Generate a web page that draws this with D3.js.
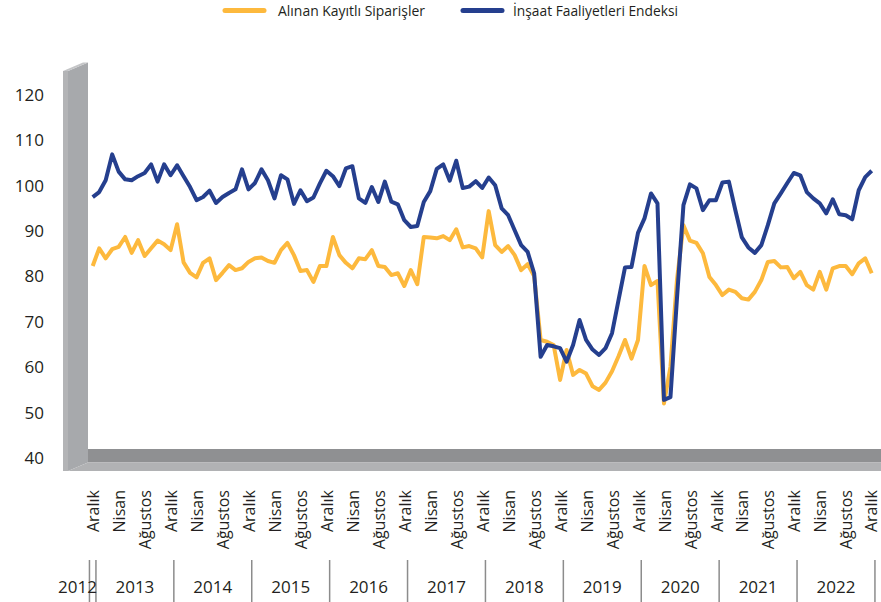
<!DOCTYPE html>
<html>

<head>
    <meta charset="utf-8">
    <title>İnşaat Faaliyetleri</title>
    <style>
        body { margin: 0; background: #fff; }
        text { font-family: "Open Sans", sans-serif; fill: #231f20; }
        .ytick { font-size: 17px; }
        .mtick { font-size: 16px; }
        .year { font-size: 17px; }
        .legend { font-size: 15px; }
    </style>
</head>

<body>
    <svg width="881" height="602"></svg>
    <script src="https://d3js.org/d3.v7.min.js"></script>

    <script>
        // aylık seri: Aralık 2012 - Aralık 2022
        const years = ['2012', '2013', '2014', '2015', '2016', '2017', '2018', '2019', '2020', '2021', '2022'];
        const tickLabels = ['Aralık', 'Nisan', 'Ağustos'];
        const yTicks = [40, 50, 60, 70, 80, 90, 100, 110, 120];
        const seriesNames = ['Alınan Kayıtlı Siparişler', 'İnşaat Faaliyetleri Endeksi'];

        const siparisler = [
            82.2, 86.1, 83.9, 85.9, 86.4, 88.6, 85.1, 87.9, 84.4, 86.1, 87.8, 87.0, 85.7,
            91.4, 83.0, 80.7, 79.7, 82.9, 83.9, 79.1, 80.7, 82.4, 81.3, 81.7, 83.1,
            83.9, 84.1, 83.3, 82.9, 85.7, 87.3, 84.6, 81.1, 81.3, 78.7, 82.2, 82.2,
            88.6, 84.6, 82.9, 81.7, 83.9, 83.7, 85.7, 82.2, 82.0, 80.2, 80.6, 77.8,
            81.3, 78.2, 88.6, 88.5, 88.3, 88.8, 87.9, 90.3, 86.3, 86.6, 86.1, 84.1,
            94.3, 86.8, 85.3, 86.6, 84.6, 81.3, 82.6, 80.0, 65.9, 65.5, 64.8, 57.1,
            63.7, 58.2, 59.3, 58.5, 55.7, 54.9, 56.5, 59.0, 62.3, 65.9, 61.8, 65.9,
            82.2, 78.0, 78.9, 51.9, 60.0, 79.1, 91.2, 87.8, 87.3, 85.0, 79.8, 78.0,
            75.8, 77.0, 76.5, 75.1, 74.8, 76.5, 79.1, 83.1, 83.3, 81.9, 82.0, 79.5,
            80.9, 78.0, 77.0, 80.9, 77.0, 81.7, 82.2, 82.2, 80.4, 82.8, 83.9, 80.6
        ];
        const endeks = [
            97.4, 98.5, 101.1, 106.8, 103.0, 101.3, 101.1, 102.0, 102.7, 104.6, 100.8, 104.6, 102.2,
            104.4, 102.0, 99.6, 96.7, 97.4, 98.8, 96.1, 97.4, 98.3, 99.1, 103.5, 99.1,
            100.5, 103.5, 101.1, 97.1, 102.2, 101.3, 95.9, 98.9, 96.5, 97.3, 100.4, 103.2,
            102.0, 99.8, 103.7, 104.2, 97.1, 96.1, 99.6, 96.3, 100.8, 96.4, 95.8, 92.3,
            90.8, 91.0, 96.3, 98.7, 103.6, 104.6, 101.0, 105.4, 99.4, 99.7, 100.9, 99.4,
            101.7, 100.0, 94.9, 93.4, 90.1, 86.8, 85.3, 80.6, 62.2, 64.8, 64.5, 64.1,
            61.1, 64.8, 70.3, 65.9, 63.8, 62.6, 64.1, 67.4, 74.7, 81.9, 82.0, 89.5,
            92.7, 98.2, 96.0, 52.7, 53.3, 75.0, 95.6, 100.2, 99.3, 94.5, 96.7, 96.7,
            100.6, 100.8, 94.5, 88.5, 86.3, 85.1, 86.8, 91.2, 96.0, 98.2, 100.5, 102.7,
            102.2, 98.5, 97.1, 96.0, 93.8, 96.9, 93.6, 93.4, 92.5, 98.9, 101.8, 103.2
        ];

        const svg = d3.select('svg');
        const colors = ['#fdb93d', '#253f8e'];

        const n = siparisler.length;
        const xScale = d3.scaleLinear().domain([0, n - 1]).range([92.7, 871.7]);
        const yScale = d3.scaleLinear().domain([40, 120]).range([457.5, 94.5]);

        // 3B duvar ve taban
        const wallL = 63, wallR = 88;
        svg.append('polygon')
            .attr('points', `${wallL + 5},71 ${wallR},62.5 ${wallR},462.5 ${wallL + 5},471`)
            .attr('fill', '#a7a9ac');
        svg.append('polygon')
            .attr('points', `${wallL},71 ${wallL + 5},71 ${wallL + 5},471 ${wallL},471`)
            .attr('fill', '#b3b4b6');
        svg.append('polygon')
            .attr('points', `${wallL},71 ${wallR - 5},62.5 ${wallR},62.5 ${wallL + 5},71`)
            .attr('fill', '#c4c5c7');
        svg.append('rect')
            .attr('x', wallR).attr('y', 449).attr('width', 881 - wallR).attr('height', 13.5)
            .attr('fill', '#8f9092');
        svg.append('polygon')
            .attr('points', `${wallL + 5},471 ${wallR},462.5 881,462.5 881,471`)
            .attr('fill', '#b1b2b4');

        // y ekseni
        const yAxis = svg.append('g')
            .attr('transform', 'translate(47,0)')
            .call(d3.axisLeft(yScale).tickValues(yTicks).tickSize(0).tickPadding(3));
        yAxis.select('.domain').remove();
        yAxis.selectAll('text').attr('class', 'ytick').attr('fill', null).attr('dy', '0.35em');

        // ay etiketleri
        const monthIdx = d3.range(0, n, 4);
        const xAxis = svg.append('g')
            .attr('transform', 'translate(0.5,490)')
            .call(d3.axisBottom(xScale).tickValues(monthIdx).tickSize(0)
                .tickFormat(i => tickLabels[(i / 4) % 3]));
        xAxis.select('.domain').remove();
        xAxis.selectAll('text')
            .attr('class', 'mtick')
            .attr('fill', null)
            .attr('transform', 'rotate(-90)')
            .attr('text-anchor', 'end')
            .attr('x', 0)
            .attr('y', i => i === n - 1 ? -1.5 : 0)   // son etiket kenara taşmasın
            .attr('dy', '0.35em');

        // yıl ayraçları
        const bounds = [-0.5].concat(years.map((d, k) => k * 12 + 0.5));
        svg.append('g').selectAll('line').data(bounds).enter().append('line')
            .attr('x1', d => xScale(d)).attr('x2', d => xScale(d))
            .attr('y1', 560).attr('y2', 602)
            .attr('stroke', '#8c8c8c').attr('stroke-width', 1.5);
        svg.append('g').selectAll('text').data(years).enter().append('text')
            .attr('class', 'year')
            .attr('x', (d, k) => k === 0 ? xScale(bounds[1]) + 1 : xScale((bounds[k] + bounds[k + 1]) / 2))
            .attr('y', 593)
            .attr('text-anchor', (d, k) => k === 0 ? 'end' : 'middle')
            .text(d => d);

        // çizgiler
        const line = d3.line().x((d, i) => xScale(i)).y(d => yScale(d));
        [siparisler, endeks].forEach((s, k) => {
            svg.append('path')
                .datum(s)
                .attr('d', line)
                .attr('fill', 'none')
                .attr('stroke', colors[k])
                .attr('stroke-width', 4)
                .attr('stroke-linejoin', 'round');
        });

        // lejant
        const legendPos = [{ x: 225, tx: 278, w: 147 }, { x: 463, tx: 513, w: 165 }];
        legendPos.forEach((p, k) => {
            svg.append('line')
                .attr('x1', p.x).attr('x2', p.x + 39).attr('y1', 10.5).attr('y2', 10.5)
                .attr('stroke', colors[k]).attr('stroke-width', 5).attr('stroke-linecap', 'round');
            svg.append('text')
                .attr('class', 'legend')
                .attr('x', p.tx).attr('y', 16)
                .attr('textLength', p.w).attr('lengthAdjust', 'spacingAndGlyphs')
                .text(seriesNames[k]);
        });
    </script>
</body>

</html>
